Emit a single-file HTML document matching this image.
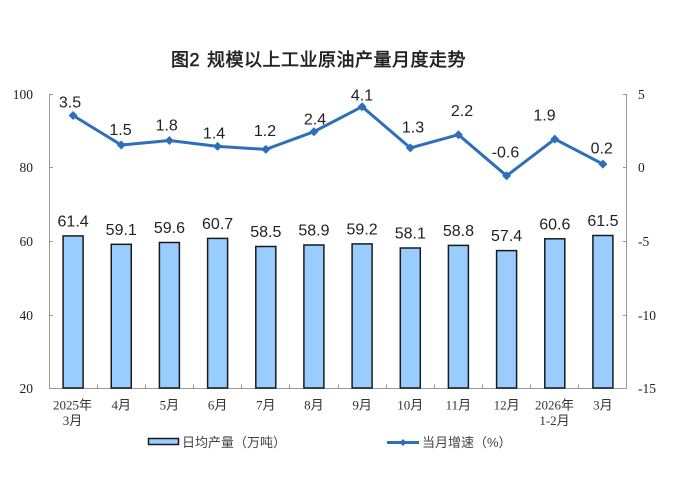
<!DOCTYPE html>
<html><head><meta charset="utf-8">
<style>
html,body{margin:0;padding:0;background:#fff;}
svg{display:block;}
.ax{font-family:"Liberation Serif",serif;font-size:13.5px;fill:#222;}
.xl{font-family:"Liberation Serif","Noto Sans CJK SC",serif;font-size:13px;fill:#333;}
.lab{font-family:"Liberation Sans",sans-serif;font-size:16px;fill:#222;text-anchor:middle;}
.lg{font-family:"Liberation Sans","Noto Sans CJK SC",sans-serif;font-size:13px;fill:#444;}
</style></head>
<body>
<svg width="677" height="478" viewBox="0 0 677 478" xmlns="http://www.w3.org/2000/svg">
<rect width="677" height="478" fill="#fff"/>
<g font-family="'Liberation Sans','Noto Sans CJK SC',sans-serif" font-size="18" fill="#222" stroke="#222" stroke-width="0.55" letter-spacing="0.5">
<text x="171" y="66">图2</text>
<text x="207" y="66">规模以上工业原油产量月度走势</text>
</g>

<!-- axes -->
<g stroke="#999" stroke-width="1" fill="none">
<line x1="49.5" y1="94" x2="49.5" y2="388.5"/>
<line x1="626.5" y1="94" x2="626.5" y2="388.5"/>
<line x1="49" y1="388.5" x2="627" y2="388.5"/>
<line x1="49.5" y1="94.5" x2="53" y2="94.5"/>
<line x1="49.5" y1="167.5" x2="53" y2="167.5"/>
<line x1="49.5" y1="241.5" x2="53" y2="241.5"/>
<line x1="49.5" y1="315.5" x2="53" y2="315.5"/>
<line x1="623" y1="94.5" x2="626.5" y2="94.5"/>
<line x1="623" y1="167.5" x2="626.5" y2="167.5"/>
<line x1="623" y1="241.5" x2="626.5" y2="241.5"/>
<line x1="623" y1="315.5" x2="626.5" y2="315.5"/>
<line x1="97.5" y1="384.5" x2="97.5" y2="388"/>
<line x1="145.5" y1="384.5" x2="145.5" y2="388"/>
<line x1="193.5" y1="384.5" x2="193.5" y2="388"/>
<line x1="241.5" y1="384.5" x2="241.5" y2="388"/>
<line x1="289.5" y1="384.5" x2="289.5" y2="388"/>
<line x1="338.5" y1="384.5" x2="338.5" y2="388"/>
<line x1="386.5" y1="384.5" x2="386.5" y2="388"/>
<line x1="434.5" y1="384.5" x2="434.5" y2="388"/>
<line x1="482.5" y1="384.5" x2="482.5" y2="388"/>
<line x1="530.5" y1="384.5" x2="530.5" y2="388"/>
<line x1="578.5" y1="384.5" x2="578.5" y2="388"/>
</g>

<!-- left tick labels -->
<g class="ax" text-anchor="end">
<text x="33" y="99">100</text>
<text x="33" y="172">80</text>
<text x="33" y="246">60</text>
<text x="33" y="320">40</text>
<text x="33" y="393">20</text>
</g>
<!-- right tick labels -->
<g class="ax" text-anchor="start">
<text x="638" y="99">5</text>
<text x="638" y="172">0</text>
<text x="638" y="246">-5</text>
<text x="638" y="320">-10</text>
<text x="638" y="393">-15</text>
</g>

<!-- bars -->
<g fill="#99CCFF" stroke="#1a1a1a" stroke-width="1.5">
<rect x="63.1" y="235.9" width="20" height="152.1"/>
<rect x="111.25" y="244.3" width="20" height="143.7"/>
<rect x="159.4" y="242.5" width="20" height="145.5"/>
<rect x="207.6" y="238.4" width="20" height="149.6"/>
<rect x="255.8" y="246.5" width="20" height="141.5"/>
<rect x="303.9" y="245.0" width="20" height="143.0"/>
<rect x="352.1" y="243.9" width="20" height="144.1"/>
<rect x="400.3" y="248.0" width="20" height="140.0"/>
<rect x="448.4" y="245.4" width="20" height="142.6"/>
<rect x="496.6" y="250.6" width="20" height="137.4"/>
<rect x="544.8" y="238.8" width="20" height="149.2"/>
<rect x="592.9" y="235.5" width="20" height="152.5"/>
</g>

<!-- bar labels -->
<g class="lab">
<text x="73.1" y="226.4">61.4</text>
<text x="121.25" y="234.8">59.1</text>
<text x="169.4" y="233.2">59.6</text>
<text x="217.6" y="228.9">60.7</text>
<text x="265.8" y="237">58.5</text>
<text x="313.9" y="235.5">58.9</text>
<text x="362.1" y="234.4">59.2</text>
<text x="410.3" y="238.5">58.1</text>
<text x="458.4" y="235.9">58.8</text>
<text x="506.6" y="241">57.4</text>
<text x="554.8" y="229.3">60.6</text>
<text x="602.9" y="226">61.5</text>
</g>

<!-- line -->
<polyline fill="none" stroke="#2F6EBA" stroke-width="3" stroke-linejoin="round"
points="73.1,115.5 121.25,145 169.4,140.5 217.6,146.4 265.8,149.4 313.9,131.7 362.1,106.7 410.3,147.9 458.4,134.7 506.6,175.8 554.8,139.1 602.9,164.1"/>
<g fill="#2F6EBA">
<path d="M73.1,111 l4.5,4.5 l-4.5,4.5 l-4.5,-4.5z"/>
<path d="M121.25,140.5 l4.5,4.5 l-4.5,4.5 l-4.5,-4.5z"/>
<path d="M169.4,136 l4.5,4.5 l-4.5,4.5 l-4.5,-4.5z"/>
<path d="M217.6,141.9 l4.5,4.5 l-4.5,4.5 l-4.5,-4.5z"/>
<path d="M265.8,144.9 l4.5,4.5 l-4.5,4.5 l-4.5,-4.5z"/>
<path d="M313.9,127.2 l4.5,4.5 l-4.5,4.5 l-4.5,-4.5z"/>
<path d="M362.1,102.2 l4.5,4.5 l-4.5,4.5 l-4.5,-4.5z"/>
<path d="M410.3,143.4 l4.5,4.5 l-4.5,4.5 l-4.5,-4.5z"/>
<path d="M458.4,130.2 l4.5,4.5 l-4.5,4.5 l-4.5,-4.5z"/>
<path d="M506.6,171.3 l4.5,4.5 l-4.5,4.5 l-4.5,-4.5z"/>
<path d="M554.8,134.6 l4.5,4.5 l-4.5,4.5 l-4.5,-4.5z"/>
<path d="M602.9,159.6 l4.5,4.5 l-4.5,4.5 l-4.5,-4.5z"/>
</g>

<!-- line labels -->
<g class="lab">
<text x="70" y="107.3">3.5</text>
<text x="120.5" y="135">1.5</text>
<text x="166.7" y="130.7">1.8</text>
<text x="214" y="138.3">1.4</text>
<text x="265" y="136">1.2</text>
<text x="315" y="124.3">2.4</text>
<text x="362" y="100.7">4.1</text>
<text x="413" y="132.7">1.3</text>
<text x="462" y="116">2.2</text>
<text x="505.5" y="157.7">-0.6</text>
<text x="544.5" y="120.7">1.9</text>
<text x="601.7" y="153.3">0.2</text>
</g>

<!-- x labels -->
<g class="xl" text-anchor="middle">
<text x="72.5" y="409.5">2025年</text>
<text x="72.5" y="425">3月</text>
<text x="121.25" y="409.5">4月</text>
<text x="169.4" y="409.5">5月</text>
<text x="217.6" y="409.5">6月</text>
<text x="265.8" y="409.5">7月</text>
<text x="313.9" y="409.5">8月</text>
<text x="362.1" y="409.5">9月</text>
<text x="410.3" y="409.5">10月</text>
<text x="458.4" y="409.5">11月</text>
<text x="506.6" y="409.5">12月</text>
<text x="554.5" y="409.5">2026年</text>
<text x="554.5" y="425">1-2月</text>
<text x="602.9" y="409.5">3月</text>
</g>

<!-- legend -->
<rect x="148.5" y="438.5" width="30" height="6" fill="#99CCFF" stroke="#1a1a1a" stroke-width="1.5"/>
<text class="lg" x="182" y="447">日均产量（万吨）</text>
<line x1="387" y1="442.5" x2="419" y2="442.5" stroke="#2F6EBA" stroke-width="3"/>
<path d="M403,439 l3.5,3.5 l-3.5,3.5 l-3.5,-3.5z" fill="#2F6EBA"/>
<text class="lg" x="422" y="447">当月增速（%）</text>
</svg>
</body></html>
